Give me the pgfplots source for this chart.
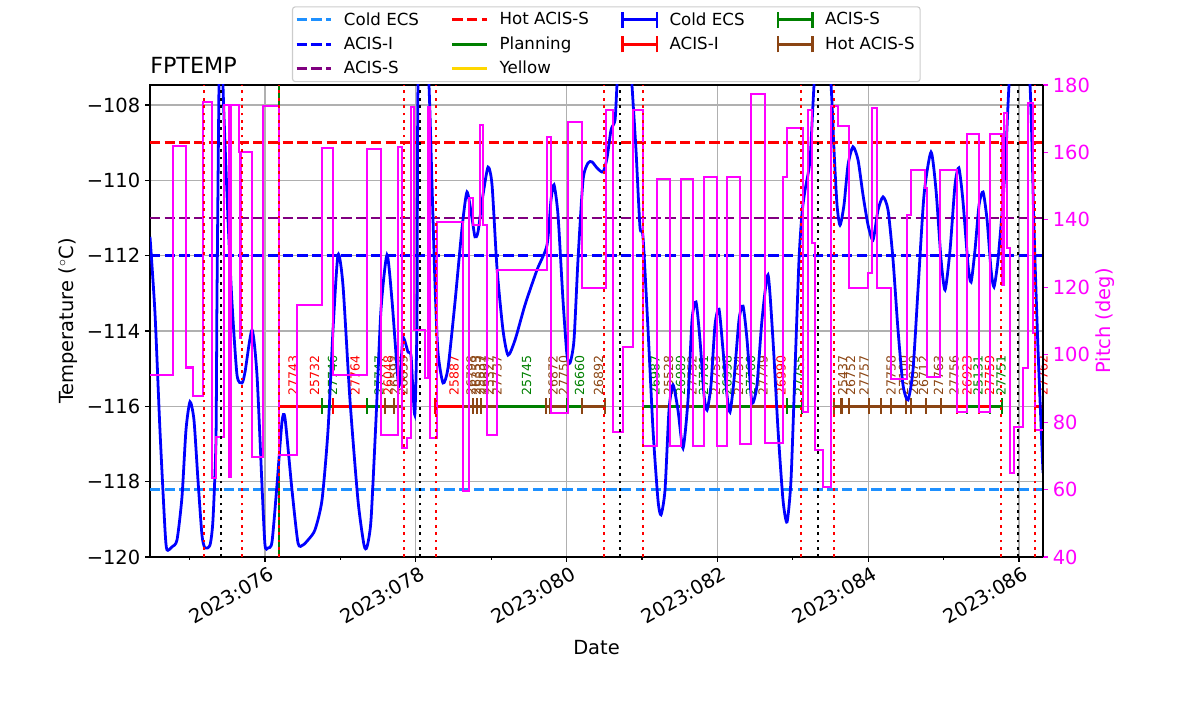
\documentclass[border=0pt]{standalone}
\usepackage{fontspec}
\setmainfont{DejaVu Sans}
\usepackage{pgfplots}
\pgfplotsset{compat=1.18}
\definecolor{dodger}{HTML}{1E90FF}
\definecolor{mplpurple}{HTML}{800080}
\definecolor{mplgreen}{HTML}{008000}
\definecolor{sbrown}{HTML}{8B4513}
\definecolor{mplgold}{HTML}{FFD700}
\definecolor{mplmag}{HTML}{FF00FF}
\definecolor{gridgray}{HTML}{B0B0B0}
\definecolor{legframe}{HTML}{CCCCCC}
\newcommand{\obsfont}{\fontsize{9}{10}\selectfont}
\newcommand{\obs}[5]{%
 \addplot[forget plot, color=#3, obsstyle] coordinates {(#1,-116) (#2,-116)};
 \node[text=#3, rotate=90, anchor=north west, inner sep=0pt, font=\obsfont] at (axis cs:#5,-115.72) {#4};
}
\newcommand{\vl}[2]{%
 \addplot[forget plot, color=#2, line width=2pt, dash pattern=on 2pt off 3.3pt] coordinates {(#1,40) (#1,180)};
}
\pgfplotsset{
 linelegend/.style={legend image code/.code={\draw[##1] (0pt,0pt) -- (25pt,0pt);}},
 obslegend/.style={legend image code/.code={\draw[##1, mark=none] (0pt,0pt) -- (25pt,0pt);
   \draw[##1, mark=none, line width=2pt] (0pt,-5.8pt) -- (0pt,5.8pt) (25pt,-5.8pt) -- (25pt,5.8pt);}},
 limline/.style={line width=2pt, dash pattern=on 7.4pt off 3.2pt},
 obsstyle/.style={line width=2pt, mark=|, mark size=5.8pt, mark options={solid, line width=2pt}},
}
\begin{document}
\begin{tikzpicture}
\useasboundingbox (0,0) rectangle (864pt,514.08pt);
\begin{axis}[
 at={(108pt,113.04pt)}, anchor=south west,
 width=642.96pt, height=339.84pt, scale only axis,
 xmin=74.475, xmax=86.318, ymin=-120, ymax=-107.469,
 clip mode=individual,
 axis line style={line width=1pt},
 xtick={76,78,80,82,84,86},
 xticklabels={2023:076,2023:078,2023:080,2023:082,2023:084,2023:086},
 minor xtick={75,77,79,81,83,85},
 ytick={-120,-118,-116,-114,-112,-110,-108},
 yticklabels={−120,−118,−116,−114,−112,−110,−108},
 xtick pos=bottom, ytick pos=left,
 tick align=outside,
 major tick length=3.5pt, minor tick length=2pt,
 every tick/.style={black, line width=0.8pt},
 xmajorgrids, ymajorgrids,
 major grid style={gridgray, line width=0.8pt},
 tick label style={font=\fontsize{14}{16}\selectfont},
 xticklabel style={rotate=30, anchor=north east, xshift=4pt},
 title={FPTEMP},
 title style={at={(axis description cs:0,1)}, anchor=base west, yshift=2.5pt, inner sep=0pt, font=\fontsize{16}{19}\selectfont},
 xlabel={Date}, ylabel={Temperature ($^\circ$C)},
 label style={font=\fontsize{14}{16}\selectfont},
 xlabel style={at={(axis description cs:0.5,-0.1928)}, anchor=center},
 ylabel style={at={(axis description cs:-0.0918,0.5)}, anchor=center},
]
% limit lines
\addplot[forget plot, dodger, limline] coordinates {(74.475,-118.2) (86.318,-118.2)};
\addplot[forget plot, blue, limline] coordinates {(74.475,-112) (86.318,-112)};
\addplot[forget plot, mplpurple, limline] coordinates {(74.475,-111) (86.318,-111)};
\addplot[forget plot, red, limline] coordinates {(74.475,-109) (86.318,-109)};
% green line
\addplot[forget plot, mplgreen, line width=2pt] coordinates {(76.186,-120) (76.186,-107.469)};
% observations
\obs{76.186}{76.424}{red}{27743}{76.305}
\obs{76.424}{76.756}{red}{25732}{76.590}
\obs{76.756}{76.902}{mplgreen}{27746}{76.829}
\obs{76.902}{77.353}{red}{27764}{77.128}
\obs{77.353}{77.538}{mplgreen}{27747}{77.446}
\obs{77.538}{77.591}{red}{26048}{77.565}
\obs{77.591}{77.711}{sbrown}{26593}{77.651}
\obs{77.711}{77.817}{sbrown}{26859}{77.764}
\obs{78.255}{78.626}{red}{25887}{78.441}
\obs{78.626}{78.706}{sbrown}{26798}{78.666}
\obs{78.706}{78.759}{sbrown}{26353}{78.733}
\obs{78.759}{78.812}{sbrown}{25537}{78.786}
\obs{78.812}{78.865}{sbrown}{26807}{78.839}
\obs{78.865}{78.944}{sbrown}{25327}{78.905}
\obs{78.944}{79.077}{sbrown}{27737}{79.011}
\obs{79.077}{79.727}{mplgreen}{25745}{79.402}
\obs{79.727}{79.780}{sbrown}{26872}{79.754}
\obs{79.780}{80.005}{sbrown}{27750}{79.893}
\obs{80.005}{80.204}{mplgreen}{26660}{80.105}
\obs{80.204}{80.509}{sbrown}{26892}{80.357}
\obs{81.013}{81.199}{mplgreen}{26987}{81.106}
\obs{81.199}{81.371}{sbrown}{25528}{81.285}
\obs{81.371}{81.517}{mplgreen}{26989}{81.444}
\obs{81.517}{81.676}{sbrown}{27752}{81.597}
\obs{81.676}{81.822}{mplgreen}{27761}{81.749}
\obs{81.822}{81.995}{sbrown}{27753}{81.909}
\obs{81.995}{82.127}{mplgreen}{26998}{82.061}
\obs{82.127}{82.300}{sbrown}{27754}{82.214}
\obs{82.300}{82.446}{mplgreen}{27760}{82.373}
\obs{82.446}{82.631}{sbrown}{27749}{82.539}
\obs{82.631}{82.923}{red}{26990}{82.777}
\obs{82.923}{83.122}{mplgreen}{27755}{83.023}
\obs{83.546}{83.650}{sbrown}{25437}{83.598}
\obs{83.650}{83.746}{sbrown}{26752}{83.698}
\obs{83.746}{84.011}{sbrown}{27757}{83.879}
\obs{84.011}{84.170}{sbrown}{}{84.090}
\obs{84.170}{84.303}{sbrown}{27758}{84.237}
\obs{84.303}{84.502}{sbrown}{27100}{84.403}
\obs{84.502}{84.568}{sbrown}{26879}{84.535}
\obs{84.568}{84.767}{sbrown}{26712}{84.668}
\obs{84.767}{84.966}{sbrown}{27763}{84.867}
\obs{84.966}{85.178}{sbrown}{27756}{85.072}
\obs{85.178}{85.311}{red}{26923}{85.245}
\obs{85.311}{85.470}{mplgreen}{25131}{85.391}
\obs{85.470}{85.616}{red}{27759}{85.543}
\obs{85.616}{85.775}{mplgreen}{27751}{85.696}
\addplot[forget plot, red, obsstyle, mark indices={1}] coordinates {(86.212,-116) (86.318,-116)};
\node[text=red, rotate=90, anchor=north west, inner sep=0pt, font=\obsfont] at (axis cs:86.252,-115.72) {27762};
% FPTEMP
\addplot[forget plot, blue, line width=2pt, smooth, tension=0.4] coordinates {
(74.475,-111.50) (74.541,-113.52) (74.607,-116.63) (74.674,-119.28) (74.700,-119.81) (74.767,-119.73)
(74.833,-119.55) (74.899,-118.41) (74.952,-116.63) (75.005,-115.88) (75.058,-116.36) (75.111,-117.95)
(75.164,-119.41) (75.204,-119.76) (75.271,-119.68) (75.310,-119.02) (75.350,-116.89) (75.363,-113.18)
(75.390,-107.47) (75.416,-104) (75.443,-107.47) (75.509,-111.00) (75.562,-113.23) (75.629,-115.17)
(75.695,-115.38) (75.735,-115.09) (75.828,-113.97) (75.894,-115.17) (75.960,-118.09) (76.000,-119.68)
(76.040,-119.76) (76.093,-119.60) (76.159,-118.09) (76.225,-116.42) (76.265,-116.31) (76.358,-118.22)
(76.438,-119.63) (76.504,-119.68) (76.570,-119.55) (76.663,-119.28) (76.756,-118.49) (76.836,-116.63)
(76.902,-113.97) (76.968,-111.98) (77.034,-112.78) (77.127,-115.83) (77.233,-118.49) (77.313,-119.68)
(77.353,-119.73) (77.406,-119.02) (77.472,-116.36) (77.538,-113.44) (77.618,-111.98) (77.684,-113.18)
(77.764,-115.30) (77.790,-115.30) (77.830,-114.19) (77.897,-114.56) (77.936,-114.64) (77.963,-115.62)
(77.989,-116.18) (78.016,-113.65) (78.029,-107.47) (78.095,-104) (78.175,-107.47) (78.215,-110.12)
(78.255,-112.78) (78.294,-114.56) (78.361,-115.38) (78.427,-114.98) (78.520,-113.23) (78.613,-111.27)
(78.679,-110.31) (78.745,-111.00) (78.785,-111.50) (78.825,-111.37) (78.891,-110.39) (78.958,-109.65)
(79.011,-110.12) (79.077,-112.33) (79.156,-113.97) (79.223,-114.64) (79.316,-114.24) (79.448,-113.31)
(79.607,-112.38) (79.740,-111.72) (79.793,-110.52) (79.833,-110.12) (79.886,-110.92) (79.952,-113.18)
(80.005,-114.64) (80.045,-114.85) (80.098,-114.24) (80.151,-112.11) (80.218,-109.99) (80.284,-109.54)
(80.337,-109.51) (80.403,-109.67) (80.483,-109.78) (80.536,-109.41) (80.589,-108.66) (80.642,-108.40)
(80.668,-107.47) (80.761,-104) (80.867,-107.47) (80.920,-109.19) (80.973,-111.24) (81.013,-111.50)
(81.080,-113.97) (81.146,-116.63) (81.212,-118.49) (81.252,-118.88) (81.305,-118.22) (81.358,-116.10)
(81.411,-115.43) (81.477,-116.10) (81.544,-117.11) (81.610,-115.83) (81.663,-113.71) (81.716,-113.23)
(81.769,-114.24) (81.822,-115.70) (81.862,-116.10) (81.915,-115.43) (81.968,-113.84) (82.021,-113.42)
(82.074,-114.50) (82.127,-115.70) (82.167,-116.15) (82.220,-115.30) (82.286,-113.71) (82.340,-113.34)
(82.393,-114.24) (82.446,-115.70) (82.472,-115.91) (82.525,-115.43) (82.591,-113.71) (82.671,-112.51)
(82.737,-114.24) (82.804,-116.63) (82.870,-118.49) (82.923,-119.07) (82.976,-117.95) (83.029,-115.03)
(83.082,-112.11) (83.122,-110.87) (83.162,-110.26) (83.228,-109.46) (83.281,-107.47) (83.387,-104)
(83.507,-107.47) (83.546,-109.19) (83.586,-110.65) (83.626,-111.19) (83.679,-110.65) (83.732,-109.59)
(83.798,-109.11) (83.865,-109.46) (83.931,-110.39) (83.998,-111.19) (84.064,-111.58) (84.130,-110.79)
(84.196,-110.44) (84.263,-110.79) (84.329,-112.11) (84.395,-113.97) (84.461,-115.43) (84.528,-115.83)
(84.594,-115.03) (84.660,-112.91) (84.740,-110.39) (84.833,-109.25) (84.899,-110.26) (84.966,-112.11)
(85.019,-112.91) (85.085,-111.85) (85.151,-110.12) (85.202,-109.67) (85.255,-110.52) (85.324,-112.25)
(85.364,-112.70) (85.416,-111.85) (85.470,-110.65) (85.523,-110.31) (85.576,-111.05) (85.629,-112.38)
(85.668,-112.83) (85.721,-112.11) (85.788,-110.52) (85.828,-109.19) (85.867,-107.47) (86.000,-103)
(86.146,-107.47) (86.199,-111.32) (86.252,-114.50) (86.318,-117.77)
};
\end{axis}
\begin{axis}[
 at={(108pt,113.04pt)}, anchor=south west,
 width=642.96pt, height=339.84pt, scale only axis,
 xmin=74.475, xmax=86.318, ymin=40, ymax=180,
 clip mode=individual,
 axis x line=none, axis y line*=right,
 axis line style={line width=1pt},
 ytick={40,60,80,100,120,140,160,180},
 yticklabels={40,60,80,100,120,140,160,180},
 tick align=outside, major tick length=3.5pt,
 every tick/.style={mplmag, line width=0.8pt},
 yticklabel style={mplmag, font=\fontsize{14}{16}\selectfont},
 ylabel={Pitch (deg)},
 ylabel style={mplmag, font=\fontsize{14}{16}\selectfont, at={(axis description cs:1.0694,0.5)}, anchor=center},
 legend columns=4,
 legend cell align=left,
 legend style={at={(0.511,1.006)}, anchor=south, draw=legframe, line width=0.8pt, rounded corners=2pt, fill=white,
   font=\fontsize{12}{14}\selectfont, row sep=3pt, inner xsep=2pt,
   /tikz/every odd column/.append style={column sep=6pt},
   /tikz/every even column/.append style={column sep=21pt}},
]
\addplot[forget plot, mplmag, line width=1.5pt, const plot] coordinates {
(74.475,94.0) (74.780,161.9) (74.952,96.2) (75.045,87.8) (75.178,175.0) (75.297,63.4) (75.350,75.6)
(75.456,174.1) (75.523,63.7) (75.549,174.1) (75.655,160.1) (75.668,105.0) (75.681,160.1) (75.828,69.7)
(75.973,173.8) (76.186,70.3) (76.424,114.7) (76.756,161.3) (76.902,94.0) (77.353,161.0) (77.538,76.2)
(77.764,161.6) (77.817,72.3) (77.883,75.3) (77.936,173.5) (77.976,107.3) (78.122,93.1) (78.162,173.5)
(78.188,75.3) (78.281,139.4) (78.626,59.6) (78.706,146.5) (78.759,138.5) (78.852,168.1) (78.891,138.5)
(78.944,76.2) (79.077,125.1) (79.740,164.6) (79.793,82.7) (80.019,169.0) (80.204,119.8) (80.523,172.6)
(80.616,77.0) (80.748,102.3) (80.881,172.6) (81.013,72.9) (81.199,152.1) (81.371,72.9) (81.517,152.1)
(81.676,72.9) (81.822,152.7) (81.995,72.9) (82.127,152.7) (82.300,73.5) (82.446,177.3) (82.631,73.8)
(82.870,152.7) (82.923,167.3) (83.135,83.0) (83.202,172.6) (83.255,133.1) (83.295,71.7) (83.401,60.8)
(83.507,173.8) (83.600,167.8) (83.746,119.8) (83.998,124.2) (84.051,173.2) (84.117,119.8) (84.303,92.8)
(84.515,141.4) (84.568,154.8) (84.754,149.4) (84.780,93.4) (84.952,154.8) (85.178,83.0) (85.311,165.5)
(85.470,83.0) (85.616,165.5) (85.775,120.7) (85.801,171.7) (85.841,131.6) (85.881,64.9) (85.934,78.6)
(86.053,96.1) (86.119,174.7) (86.186,106.4) (86.212,77.7) (86.318,77.7)
};
% vertical lines
\vl{75.191}{red}\vl{75.695}{red}\vl{76.186}{red}\vl{77.843}{red}\vl{78.268}{red}\vl{80.496}{red}
\vl{81.013}{red}\vl{83.109}{red}\vl{83.546}{red}\vl{85.761}{red}\vl{86.212}{red}
\vl{75.416}{black}\vl{78.056}{black}\vl{80.708}{black}\vl{83.334}{black}\vl{85.987}{black}
% legend
\addlegendimage{linelegend, dodger, limline}\addlegendentry{Cold ECS}
\addlegendimage{linelegend, red, limline}\addlegendentry{Hot ACIS-S}
\addlegendimage{obslegend, blue, obsstyle}\addlegendentry{Cold ECS}
\addlegendimage{obslegend, mplgreen, obsstyle}\addlegendentry{ACIS-S}
\addlegendimage{linelegend, blue, limline}\addlegendentry{ACIS-I}
\addlegendimage{linelegend, mplgreen, line width=2pt}\addlegendentry{Planning}
\addlegendimage{obslegend, red, obsstyle}\addlegendentry{ACIS-I}
\addlegendimage{obslegend, sbrown, obsstyle}\addlegendentry{Hot ACIS-S}
\addlegendimage{linelegend, mplpurple, limline}\addlegendentry{ACIS-S}
\addlegendimage{linelegend, mplgold, line width=2pt}\addlegendentry{Yellow}
\addlegendimage{empty legend}\addlegendentry{}
\addlegendimage{empty legend}\addlegendentry{}
\end{axis}
\end{tikzpicture}
\end{document}
